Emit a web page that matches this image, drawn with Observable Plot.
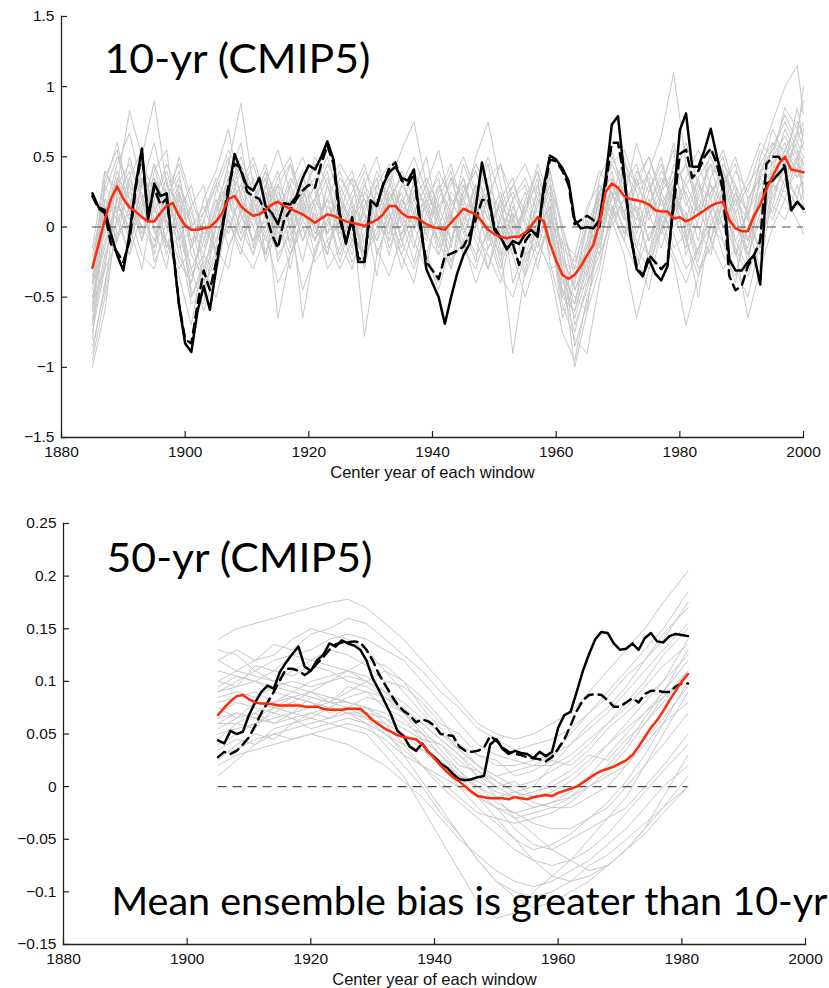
<!DOCTYPE html>
<html><head><meta charset="utf-8">
<script src="https://cdn.jsdelivr.net/npm/d3@7"></script>
<script src="https://cdn.jsdelivr.net/npm/@observablehq/plot@0.6"></script>
<style>
html,body{margin:0;padding:0;background:#fff;overflow:hidden;}
#wrap{width:829px;height:988px;position:relative;}
.chart{position:absolute;left:0;}
</style></head>
<body><div id="wrap"><div id="top" class="chart" style="top:0px"></div><div id="bot" class="chart" style="top:490px"></div></div>
<script>
const AXIS_LABEL = "Center year of each window";
const xTicks = [1880, 1900, 1920, 1940, 1960, 1980, 2000];
const topYTicks = [-1.5, -1, -0.5, 0, 0.5, 1, 1.5];
const botYTicks = [-0.15, -0.1, -0.05, 0, 0.05, 0.1, 0.15, 0.2, 0.25];
const topTitle = "10-yr (CMIP5)";
const botTitle = "50-yr (CMIP5)";
const botNote = "Mean ensemble bias is greater than 10-yr";

// ---------- 10-yr panel (annual, 1885-2000) ----------
const topYears = d3.range(1885, 2001);
const topObsSolid = [
  0.24, 0.14, 0.12, -0.05, -0.2, -0.31, -0.05, 0.3, 0.56, 0.05,
  0.31, 0.22, 0.24, -0.15, -0.55, -0.83, -0.89, -0.6, -0.42, -0.59,
  -0.3, -0.02, 0.25, 0.52, 0.4, 0.29, 0.26, 0.35, 0.15, 0.1,
  0.02, 0.17, 0.16, 0.22, 0.35, 0.44, 0.41, 0.5, 0.61, 0.48,
  0.1, -0.12, 0.07, -0.25, -0.25, 0.19, 0.15, 0.3, 0.39, 0.43,
  0.35, 0.33, 0.41, 0.05, -0.3, -0.4, -0.5, -0.69, -0.5, -0.33,
  -0.2, -0.12, 0.14, 0.46, 0.25, -0.02, -0.07, -0.16, -0.1, -0.12,
  -0.05, -0.02, -0.07, 0.29, 0.51, 0.48, 0.42, 0.33, 0.05, -0.01,
  0.0, -0.01, 0.05, 0.35, 0.73, 0.79, 0.38, -0.05, -0.3, -0.35,
  -0.23, -0.33, -0.38, -0.28, 0.2, 0.69, 0.81, 0.43, 0.43, 0.55,
  0.7, 0.5, 0.33, -0.23, -0.31, -0.31, -0.25, -0.2, -0.41, 0.31,
  0.33, 0.38, 0.43, 0.12, 0.18, 0.13
];
const topObsDashed = [
  0.22, 0.13, 0.1, -0.12, -0.18, -0.25, -0.1, 0.28, 0.53, 0.08,
  0.28, 0.16, 0.2, -0.15, -0.55, -0.8, -0.83, -0.55, -0.31, -0.45,
  -0.25, 0.0, 0.3, 0.45, 0.42, 0.25, 0.22, 0.2, 0.1, -0.05,
  -0.15, 0.05, 0.12, 0.2, 0.26, 0.3, 0.28, 0.45, 0.58, 0.45,
  0.05, -0.1, 0.05, -0.22, -0.24, 0.15, 0.15, 0.3, 0.42, 0.46,
  0.33, 0.3, 0.38, 0.0, -0.25, -0.31, -0.37, -0.21, -0.19, -0.17,
  -0.14, -0.05, 0.05, 0.19, 0.2, 0.0, -0.08, -0.15, -0.12, -0.27,
  -0.1, -0.04, -0.05, 0.25, 0.48, 0.47, 0.4, 0.3, 0.02, 0.05,
  0.08, 0.05, 0.0, 0.3, 0.6, 0.6, 0.35, -0.05, -0.28, -0.35,
  -0.2, -0.25, -0.3, -0.25, 0.15, 0.52, 0.55, 0.35, 0.4, 0.5,
  0.56, 0.45, 0.25, -0.35, -0.45, -0.42, -0.28, -0.2, -0.1, 0.45,
  0.5, 0.5, 0.43, 0.12, 0.18, 0.13
];
const topEnsMean = [
  -0.29, -0.12, 0.05, 0.2, 0.29, 0.2, 0.14, 0.11, 0.07, 0.04,
  0.04, 0.1, 0.15, 0.17, 0.08, 0.01, -0.02, -0.02, -0.01, 0.0,
  0.04, 0.1, 0.2, 0.22, 0.15, 0.11, 0.08, 0.09, 0.12, 0.16,
  0.18, 0.15, 0.13, 0.11, 0.09, 0.06, 0.03, 0.06, 0.09, 0.08,
  0.06, 0.04, 0.03, 0.02, 0.01, 0.03, 0.05, 0.09, 0.15, 0.15,
  0.1, 0.07, 0.07, 0.05, 0.02, 0.0, -0.01, -0.02, 0.03, 0.08,
  0.13, 0.11, 0.09, 0.04, -0.02, -0.05, -0.07, -0.08, -0.07, -0.07,
  -0.04, 0.01, 0.07, 0.04, -0.12, -0.24, -0.34, -0.37, -0.34, -0.28,
  -0.2, -0.13, 0.03, 0.25, 0.31, 0.28, 0.22, 0.2, 0.19, 0.18,
  0.16, 0.12, 0.11, 0.11, 0.06, 0.07, 0.04, 0.06, 0.09, 0.12,
  0.15, 0.17, 0.18, 0.05, -0.01, -0.03, -0.03, 0.08, 0.16, 0.27,
  0.36, 0.45, 0.5, 0.41, 0.4, 0.39
];
const topGrayYears = [1885,1887,1889,1891,1893,1895,1897,1899,1901,1903,1905,1907,1909,1911,1913,1915,1917,1919,1921,1923,1925,1927,1929,1931,1933,1935,1937,1939,1941,1943,1945,1947,1949,1951,1953,1955,1957,1959,1961,1963,1965,1967,1969,1971,1973,1975,1977,1979,1981,1983,1985,1987,1989,1991,1993,1995,1997,1999,2000];
const topMembers = [
  [-0.55,0.1,0.45,0.67,0.3,0.6,0.2,0.4,-0.2,-0.35, 0.1,0.45,0.88,0.3,0.1,0.35,0.5,0.15,-0.1,0.3, 0.05,-0.2,0.15,0.3,0.45,0.1,-0.15,0.2,0.35,-0.1, 0.25,0.4,0.1,-0.25,0.15,-0.1,0.3,0.05,-0.45,-0.6, -0.3,0.1,0.5,0.3,0.45,0.1,0.3,0.55,-0.1,0.2, 0.45,0.3,-0.1,-0.3,0.4,0.55,0.8,0.6,0.5],
  [-1.0,-0.6,0.1,-0.2,0.35,0.0,-0.3,0.25,-0.5,-0.25, -0.1,0.3,0.1,-0.2,0.25,-0.1,0.2,0.4,0.0,-0.2, 0.2,0.35,-0.15,0.1,-0.05,0.3,0.15,-0.2,-0.4,0.1, 0.35,0.05,-0.3,0.0,-0.2,0.2,0.4,0.0,-0.5,-0.2, -0.35,0.15,0.4,0.05,0.3,0.35,-0.05,0.2,0.1,-0.2, 0.25,0.4,0.05,-0.2,0.1,0.4,0.3,0.7,0.55],
  [-0.3,0.3,0.6,0.2,-0.1,0.4,0.55,-0.1,0.15,0.3, -0.2,0.15,0.4,-0.15,0.3,0.55,0.25,-0.1,0.2,0.4, -0.1,0.2,-0.3,0.15,0.4,0.0,0.25,0.5,0.05,-0.25, 0.1,0.3,-0.1,0.2,-0.4,-0.15,0.2,-0.2,-0.1,-0.7, -0.45,-0.1,0.2,0.5,0.1,-0.2,0.25,0.4,0.15,0.35, -0.1,0.3,0.45,0.05,-0.15,0.5,0.65,0.45,0.3],
  [-0.7,-0.25,0.2,0.4,-0.05,0.15,-0.2,0.1,0.3,-0.1, 0.2,-0.15,0.1,0.35,-0.2,0.05,-0.3,0.15,0.3,-0.05, 0.3,0.1,0.35,-0.2,0.05,0.25,-0.1,-0.3,0.2,0.4, -0.05,0.2,0.45,-0.1,0.1,-0.35,0.05,0.3,-0.3,-0.55, -0.1,0.3,0.15,-0.1,0.35,0.5,0.2,-0.15,-0.05,0.3, 0.2,-0.1,-0.4,0.2,0.35,0.15,0.5,0.35,0.45],
  [-0.15,0.4,0.2,-0.1,0.3,0.1,0.35,-0.2,-0.4,0.05, 0.3,0.05,-0.2,0.2,0.4,-0.05,0.1,-0.25,0.15,0.35, 0.15,-0.1,0.1,-0.35,0.2,0.35,0.05,0.15,-0.2,0.05, 0.45,0.2,0.0,-0.3,0.05,0.25,-0.1,-0.3,-0.25,-0.4, 0.05,-0.2,0.35,0.2,0.05,0.4,0.65,1.1,0.45,0.2, 0.1,0.4,0.2,0.05,0.5,0.75,1.0,1.15,0.8],
  [-0.45,0.15,-0.1,0.35,0.55,-0.05,0.1,0.3,0.05,-0.4, 0.0,0.35,0.15,-0.1,0.0,0.3,-0.15,0.2,0.45,0.1, -0.2,0.05,0.3,0.5,0.1,-0.15,0.35,0.1,-0.1,0.2, 0.0,-0.25,0.3,0.1,-0.15,0.1,0.35,-0.25,-0.6,-0.35, -0.15,0.2,0.05,0.4,0.25,-0.1,0.1,0.3,-0.2,0.05, 0.35,0.5,0.1,-0.25,0.25,0.2,0.45,0.6,0.75],
  [-0.6,0.0,0.3,0.83,0.5,0.9,0.3,0.15,-0.15,0.2, 0.4,0.7,0.2,0.05,0.25,-0.1,0.3,0.5,0.25,-0.05, 0.1,0.35,0.2,0.0,0.3,0.55,0.75,0.3,0.0,0.25, 0.15,0.5,0.75,0.3,0.0,-0.1,0.15,0.4,0.0,-0.3, -0.2,0.35,0.55,0.2,0.6,0.3,0.05,0.45,0.3,0.1, 0.55,0.4,0.15,0.35,0.6,0.5,0.85,0.7,0.9],
  [-0.9,-0.4,-0.05,0.1,-0.2,-0.3,0.05,-0.1,-0.55,-0.45, -0.2,0.05,-0.15,-0.3,-0.05,-0.4,-0.2,0.0,-0.25,-0.1, -0.3,-0.1,0.05,-0.15,-0.35,-0.05,0.1,-0.2,-0.45,-0.1, 0.0,-0.2,-0.05,-0.35,-0.5,-0.2,-0.1,-0.3,-0.75,-0.95, -0.5,-0.25,0.1,-0.1,-0.3,-0.05,0.05,-0.2,-0.4,-0.15, 0.0,-0.1,-0.3,-0.5,-0.1,0.15,0.05,0.3,0.15],
  [-0.35,0.2,0.05,-0.2,0.1,-0.15,0.2,0.0,-0.3,-0.6, -0.3,0.1,0.3,0.1,-0.2,0.2,0.0,-0.45,-0.2,0.15, 0.0,-0.25,-0.05,0.2,0.0,-0.2,-0.4,0.05,0.15,-0.1, 0.2,-0.05,-0.2,-0.4,0.0,0.1,-0.15,0.15,-0.3,-1.0, -0.6,-0.3,0.15,0.0,-0.2,-0.45,0.0,0.2,-0.1,-0.35, 0.0,0.25,-0.2,0.0,-0.3,0.25,0.4,0.2,0.1],
  [-0.75,-0.3,0.35,0.1,0.25,-0.25,-0.05,0.3,0.1,-0.15, 0.15,-0.05,0.25,0.45,0.15,-0.65,-0.2,0.05,-0.1,0.3, -0.05,0.15,-0.2,-0.05,0.25,0.05,-0.25,0.1,0.3,0.05, -0.15,0.1,0.25,-0.15,-0.9,-0.3,0.05,0.25,-0.2,-0.45, -0.2,0.0,0.3,0.1,-0.3,0.15,0.4,0.25,0.05,-0.3, -0.15,0.1,0.3,-0.1,0.15,0.3,0.55,0.45,0.35],
  [-0.2,0.25,0.5,0.3,0.15,0.45,0.0,0.25,-0.1,0.1, 0.3,0.55,0.35,0.15,0.4,0.2,0.05,0.3,-0.05,0.2, 0.4,0.15,0.0,0.25,0.1,-0.05,0.2,0.35,0.15,0.3, 0.5,0.25,0.05,0.15,0.3,0.1,0.45,0.2,-0.15,-0.25, 0.0,0.25,0.45,0.55,0.3,0.15,0.35,0.2,0.05,0.35, 0.5,0.25,0.1,0.3,0.45,0.6,0.55,0.75,0.65],
  [-0.5,-0.1,0.15,0.0,-0.3,0.2,-0.1,-0.35,-0.7,-0.2, -0.35,0.1,-0.1,0.15,-0.25,0.0,0.2,-0.1,0.1,-0.3, -0.15,0.1,-0.78,-0.2,0.05,-0.3,0.0,-0.2,0.1,-0.25, -0.1,-0.4,-0.15,0.05,-0.2,-0.5,-0.2,0.0,-0.55,-0.8, -0.9,-0.4,0.05,-0.2,-0.65,-0.3,0.0,-0.25,-0.7,-0.35, -0.1,-0.3,-0.15,-0.65,-0.3,0.0,0.2,0.05,-0.05],
  [-0.8,0.05,0.4,0.15,0.45,0.25,0.0,-0.15,0.0,0.15, -0.1,0.2,0.0,-0.2,0.1,0.3,0.15,-0.65,-0.15,0.05, 0.25,0.0,-0.25,0.1,0.3,0.15,0.05,-0.1,0.25,0.45, 0.1,-0.1,-0.3,0.1,0.25,0.05,-0.3,0.1,-0.4,-0.5, -0.6,0.05,0.25,-0.05,0.15,-0.25,0.1,0.35,-0.05,-0.5, 0.05,0.15,-0.1,0.1,-0.2,0.3,0.2,0.5,0.25],
  [-0.4,0.3,0.1,0.5,0.2,0.35,0.15,0.5,0.2,-0.05, 0.05,0.25,0.5,0.25,0.45,0.1,0.35,0.2,0.5,0.3, 0.45,0.3,0.1,0.4,0.2,0.35,0.1,0.3,0.55,0.15, 0.3,0.05,0.35,0.45,0.2,0.35,0.1,0.3,0.0,-0.35, -0.1,0.25,0.35,0.1,0.4,0.25,0.5,0.1,0.35,0.55, 0.3,0.15,0.4,0.25,0.55,0.45,0.6,0.35,0.5],
  [-0.65,-0.2,0.05,0.25,0.1,-0.1,0.25,0.45,0.15,-0.3, -0.5,-0.15,0.05,0.2,-0.1,0.15,0.45,0.2,0.0,0.2, -0.1,-0.3,0.05,0.2,-0.15,0.1,0.3,-0.05,-0.2,0.1, -0.2,0.15,-0.05,-0.2,0.1,-0.05,0.25,-0.1,-0.35,-0.65, -0.35,0.0,0.2,0.35,0.0,0.1,-0.15,0.15,0.25,0.0, -0.2,0.2,-0.15,-0.35,-0.05,0.35,0.45,0.55,0.2],
  [-0.85,-0.45,0.25,-0.05,0.2,0.35,-0.15,0.05,-0.45,-0.55, 0.05,0.3,-0.05,0.2,0.35,-0.25,0.0,0.15,-0.2,0.05, 0.2,-0.1,0.15,0.35,-0.1,0.2,0.0,0.15,-0.1,-0.3, 0.25,0.4,0.15,-0.2,-0.15,0.15,-0.05,-0.1,-0.45,-0.75, -0.4,-0.05,0.3,0.1,-0.15,0.2,-0.05,0.3,0.45,0.1, 0.3,0.0,0.25,0.1,0.3,0.4,0.7,0.5,0.6],
  [-0.95,-0.5,0.0,0.3,-0.1,0.2,0.4,0.1,-0.3,-0.1, 0.25,0.5,0.1,-0.1,0.2,0.4,0.0,0.25,0.35,-0.1, 0.05,0.25,0.45,0.1,-0.2,0.15,0.4,0.2,-0.15,0.15, 0.35,0.0,0.2,0.45,0.05,-0.2,0.05,0.35,-0.2,-0.85, -0.55,-0.1,0.3,0.1,0.35,0.05,0.25,0.6,0.2,-0.1, 0.35,0.55,0.25,-0.1,0.2,0.6,0.45,0.85,0.6],
  [-0.6,0.35,0.55,0.1,0.4,0.15,-0.15,0.2,-0.1,-0.45, -0.15,0.2,0.45,0.2,-0.05,0.25,0.1,0.35,0.15,-0.2, 0.2,0.0,0.3,0.15,0.35,-0.1,0.1,0.3,0.1,0.35, 0.05,0.3,0.15,-0.1,0.2,0.3,0.0,0.4,-0.05,-0.45, -0.25,0.25,0.1,0.3,-0.05,0.25,0.45,0.1,-0.15,0.25, 0.45,0.1,-0.2,0.15,0.45,0.3,0.55,0.4,0.7],
  [-0.25,-0.05,0.3,0.45,0.2,-0.2,0.15,0.35,0.0,-0.2, 0.1,0.35,0.6,0.1,0.3,0.05,-0.2,0.1,0.3,0.5, 0.2,0.05,-0.2,0.3,0.15,0.4,0.2,-0.05,0.3,0.1, -0.1,0.25,0.5,0.2,-0.05,0.15,0.4,0.1,-0.25,-0.3, 0.1,0.4,0.25,-0.05,0.2,0.4,0.15,0.35,0.6,0.3, 0.1,0.3,0.5,0.2,0.35,0.7,0.5,0.65,1.0],
  [-0.5,-0.15,0.2,-0.1,0.15,0.3,0.05,-0.25,-0.4,0.0, -0.15,-0.3,0.15,0.0,0.2,-0.15,0.05,0.2,-0.1,0.1, -0.25,0.05,0.2,-0.1,0.1,-0.2,0.05,0.2,0.0,-0.3, 0.05,0.15,-0.15,-0.05,0.2,-0.25,0.0,0.15,-0.5,-0.6, -0.25,0.1,0.0,0.2,-0.15,-0.3,0.05,0.3,0.0,0.15, -0.1,0.2,0.0,-0.15,0.25,0.1,0.35,0.2,0.4],
  [-0.7,0.2,0.1,0.35,0.1,0.45,0.2,-0.05,-0.35,-0.2, 0.15,0.4,0.25,0.0,-0.2,0.1,0.3,0.05,0.2,0.45, 0.25,0.4,0.1,-0.1,0.25,0.05,0.3,0.15,0.4,0.2, 0.0,0.3,0.05,0.25,-0.1,0.15,0.3,-0.1,-0.45,-0.55, -0.2,0.2,0.45,0.25,0.1,0.3,0.0,0.25,0.45,0.15, 0.25,0.35,0.0,-0.1,0.35,0.45,0.3,0.5,0.45],
  [-0.4,0.05,0.35,0.2,0.0,-0.15,0.3,0.15,-0.5,-0.3, 0.0,0.2,-0.1,0.15,0.35,0.1,-0.1,0.25,0.05,0.2, 0.1,-0.15,0.25,0.05,-0.1,0.2,0.0,0.25,0.05,-0.15, 0.3,0.1,-0.05,0.2,0.35,0.0,-0.2,0.05,-0.65,-0.4, 0.0,-0.15,0.25,0.05,0.15,-0.1,0.2,0.0,0.1,-0.25, 0.15,0.0,0.2,-0.2,0.05,0.3,0.25,0.4,0.3],
  [-0.3,0.4,0.25,0.05,0.35,0.2,0.45,0.25,0.0,0.1, 0.35,0.15,0.3,0.5,0.2,0.3,0.45,0.1,0.2,0.0, 0.35,0.2,0.4,0.25,0.05,0.3,0.5,0.25,0.1,0.35, 0.2,0.45,0.25,0.05,0.3,0.45,0.2,0.05,-0.1,-0.2, 0.15,0.3,0.1,0.45,0.3,0.5,0.25,0.05,0.3,0.45, 0.2,0.45,0.3,0.1,0.4,0.55,0.75,0.55,0.45],
  [-0.55,-0.3,-0.1,0.15,0.35,0.05,-0.1,-0.3,-0.15,0.05, -0.2,0.0,0.2,-0.1,0.05,-0.2,-0.05,0.1,0.0,-0.15, 0.05,-0.05,-0.2,0.0,0.2,-0.1,-0.3,0.0,-0.05,0.1, -0.15,-0.3,0.0,0.15,-0.15,-0.35,-0.1,0.2,-0.35,-0.5, -0.4,-0.2,0.05,0.2,-0.1,-0.2,0.1,-0.05,-0.3,-0.15, 0.1,-0.2,-0.35,0.0,0.2,0.05,0.3,0.15,0.25]
];

// ---------- 50-yr panel (annual, 1905-1981) ----------
const botYears = d3.range(1905, 1982);
const botObsSolid = [
  0.044, 0.041, 0.053, 0.05, 0.052, 0.068, 0.08, 0.09, 0.096, 0.093,
  0.109, 0.118, 0.126, 0.133, 0.114, 0.11, 0.12, 0.125, 0.136, 0.133,
  0.139, 0.136, 0.134, 0.13, 0.12, 0.103, 0.092, 0.08, 0.068, 0.053,
  0.048, 0.038, 0.034, 0.041, 0.033, 0.028, 0.022, 0.018, 0.012, 0.007,
  0.006, 0.007, 0.009, 0.01, 0.04, 0.045, 0.036, 0.031, 0.034, 0.032,
  0.031, 0.027, 0.033, 0.029, 0.033, 0.056, 0.068, 0.071, 0.09, 0.11,
  0.126, 0.14, 0.147, 0.146, 0.136, 0.13, 0.131, 0.136, 0.13, 0.141,
  0.146, 0.138, 0.137, 0.143, 0.145, 0.144, 0.143
];
const botObsDashed = [
  0.028, 0.033, 0.031, 0.034, 0.04, 0.047, 0.058, 0.07, 0.08, 0.09,
  0.101, 0.112, 0.112, 0.11, 0.106, 0.11, 0.117, 0.123, 0.13, 0.135,
  0.137, 0.137, 0.138, 0.137, 0.13, 0.12, 0.107, 0.097, 0.087, 0.078,
  0.072, 0.068, 0.061, 0.064, 0.062, 0.058, 0.05, 0.049, 0.048, 0.038,
  0.034, 0.033, 0.034, 0.037, 0.048, 0.044, 0.037, 0.033, 0.031, 0.03,
  0.028, 0.027, 0.026, 0.024, 0.028, 0.036, 0.045, 0.058, 0.072, 0.082,
  0.087, 0.088, 0.087, 0.082, 0.076, 0.076, 0.08, 0.084, 0.08, 0.088,
  0.091, 0.091, 0.09, 0.09, 0.095, 0.098, 0.098
];
const botEnsMean = [
  0.068, 0.075, 0.081, 0.086, 0.087, 0.083, 0.08, 0.079, 0.079, 0.078,
  0.077, 0.077, 0.077, 0.077, 0.076, 0.076, 0.076, 0.074, 0.073, 0.073,
  0.073, 0.074, 0.074, 0.074, 0.069, 0.063, 0.059, 0.055, 0.052, 0.049,
  0.047, 0.046, 0.045, 0.04, 0.033, 0.027, 0.02, 0.014, 0.009, 0.005,
  0.0, -0.005, -0.009, -0.01, -0.011, -0.011, -0.011, -0.012, -0.01, -0.011,
  -0.012, -0.01, -0.009, -0.008, -0.009, -0.006, -0.004, -0.002, 0.0, 0.004,
  0.008, 0.012, 0.015, 0.017, 0.019, 0.022, 0.025, 0.03, 0.038, 0.047,
  0.056, 0.063, 0.072, 0.082, 0.091, 0.1, 0.107
];
const botGrayYears = [1905,1908,1911,1914,1917,1920,1923,1926,1929,1932,1935,1938,1941,1944,1947,1950,1953,1956,1959,1962,1965,1968,1971,1974,1977,1981];
const botMembers = [
  [0.14,0.15,0.155,0.16,0.165,0.17,0.175,0.178,0.17,0.155, 0.14,0.12,0.1,0.08,0.06,0.05,0.045,0.05,0.06,0.07, 0.09,0.11,0.13,0.15,0.175,0.205],
  [0.12,0.13,0.12,0.125,0.14,0.15,0.145,0.14,0.13,0.11, 0.09,0.07,0.05,0.035,0.02,0.01,0.015,0.02,0.03,0.05, 0.07,0.09,0.11,0.13,0.15,0.185],
  [0.1,0.11,0.105,0.1,0.11,0.12,0.115,0.11,0.1,0.085, 0.07,0.05,0.03,0.01,0.0,-0.01,-0.005,0.0,0.02,0.04, 0.06,0.075,0.095,0.12,0.145,0.17],
  [0.06,0.07,0.065,0.06,0.07,0.065,0.06,0.055,0.05,0.03, 0.01,-0.02,-0.05,-0.08,-0.11,-0.125,-0.12,-0.1,-0.085,-0.07, -0.05,-0.03,-0.01,0.02,0.05,0.09],
  [0.08,0.085,0.09,0.08,0.085,0.09,0.08,0.075,0.07,0.055, 0.03,0.005,-0.02,-0.045,-0.07,-0.09,-0.1,-0.105,-0.1,-0.09, -0.075,-0.065,-0.05,-0.035,-0.02,0.0],
  [0.04,0.05,0.06,0.065,0.07,0.075,0.08,0.08,0.075,0.065, 0.05,0.035,0.02,0.005,-0.01,-0.02,-0.025,-0.02,-0.015,-0.005, 0.01,0.03,0.05,0.07,0.09,0.12],
  [0.01,0.025,0.04,0.05,0.055,0.06,0.065,0.07,0.065,0.05, 0.035,0.02,0.005,-0.01,-0.025,-0.03,-0.035,-0.03,-0.025,-0.015, 0.0,0.015,0.035,0.06,0.085,0.11],
  [0.09,0.095,0.1,0.095,0.09,0.085,0.08,0.09,0.1,0.11, 0.1,0.085,0.065,0.04,0.02,0.005,-0.005,-0.015,-0.02,-0.02, -0.01,0.0,0.02,0.04,0.06,0.08],
  [0.13,0.125,0.11,0.1,0.095,0.09,0.085,0.08,0.075,0.06, 0.04,0.02,0.0,-0.015,-0.03,-0.045,-0.06,-0.07,-0.075,-0.07, -0.06,-0.045,-0.025,-0.005,0.015,0.04],
  [0.07,0.08,0.075,0.07,0.065,0.07,0.075,0.085,0.09,0.085, 0.075,0.06,0.045,0.03,0.01,-0.01,-0.03,-0.045,-0.06,-0.07, -0.08,-0.075,-0.06,-0.04,-0.01,0.03],
  [0.05,0.055,0.06,0.07,0.08,0.09,0.1,0.105,0.1,0.09, 0.08,0.065,0.05,0.04,0.03,0.02,0.02,0.025,0.03,0.04, 0.055,0.07,0.09,0.11,0.13,0.155],
  [0.11,0.105,0.1,0.09,0.085,0.08,0.075,0.07,0.07,0.065, 0.055,0.045,0.03,0.015,0.0,-0.015,-0.025,-0.035,-0.04,-0.04, -0.03,-0.015,0.005,0.03,0.06,0.1],
  [0.03,0.035,0.045,0.05,0.045,0.05,0.055,0.06,0.055,0.045, 0.03,0.02,0.01,0.0,-0.01,-0.02,-0.03,-0.025,-0.02,-0.01, 0.005,0.02,0.04,0.065,0.09,0.13],
  [0.06,0.06,0.07,0.08,0.09,0.1,0.105,0.11,0.105,0.09, 0.07,0.05,0.03,0.01,-0.01,-0.03,-0.05,-0.07,-0.085,-0.09, -0.085,-0.075,-0.06,-0.04,-0.02,0.01],
  [0.09,0.1,0.11,0.12,0.125,0.13,0.14,0.145,0.14,0.13, 0.12,0.1,0.08,0.06,0.04,0.03,0.025,0.02,0.02,0.03, 0.045,0.06,0.08,0.1,0.125,0.15],
  [0.02,0.03,0.035,0.04,0.045,0.05,0.045,0.04,0.03,0.02, 0.005,-0.01,-0.03,-0.05,-0.065,-0.08,-0.09,-0.095,-0.09,-0.08, -0.07,-0.055,-0.04,-0.02,0.0,0.02],
  [0.045,0.06,0.055,0.075,0.07,0.085,0.08,0.095,0.09,0.075, 0.065,0.045,0.04,0.02,0.015,0.0,0.005,-0.01,0.005,0.015, 0.03,0.025,0.045,0.06,0.08,0.11],
  [0.1,0.095,0.115,0.11,0.125,0.12,0.13,0.125,0.115,0.1, 0.095,0.08,0.06,0.05,0.03,0.025,0.01,0.015,0.025,0.02, 0.035,0.055,0.07,0.085,0.1,0.14],
  [0.075,0.065,0.07,0.06,0.065,0.055,0.06,0.065,0.06,0.05, 0.04,0.035,0.025,0.01,0.005,-0.005,-0.01,-0.02,-0.015,-0.01, 0.0,0.01,0.02,0.045,0.065,0.095],
  [0.035,0.045,0.04,0.055,0.06,0.07,0.065,0.075,0.085,0.08, 0.07,0.055,0.035,0.015,-0.005,-0.02,-0.04,-0.055,-0.06,-0.05, -0.04,-0.03,-0.02,0.0,0.02,0.05],
  [0.12,0.11,0.12,0.135,0.13,0.145,0.15,0.16,0.155,0.14, 0.125,0.11,0.09,0.075,0.055,0.045,0.035,0.04,0.045,0.055, 0.07,0.085,0.105,0.12,0.14,0.175],
  [0.055,0.065,0.08,0.075,0.085,0.08,0.07,0.075,0.065,0.06, 0.05,0.04,0.02,0.0,-0.02,-0.035,-0.05,-0.06,-0.055,-0.045, -0.03,-0.02,0.0,0.02,0.04,0.07],
  [0.085,0.09,0.085,0.095,0.1,0.095,0.1,0.11,0.12,0.115, 0.1,0.075,0.055,0.035,0.02,0.01,0.0,0.005,0.015,0.025, 0.04,0.06,0.075,0.095,0.115,0.135],
  [0.025,0.04,0.05,0.045,0.06,0.065,0.075,0.07,0.06,0.04, 0.02,0.0,-0.025,-0.045,-0.07,-0.09,-0.105,-0.115,-0.11,-0.1, -0.09,-0.075,-0.06,-0.045,-0.025,0.0],
  [0.065,0.07,0.065,0.075,0.08,0.075,0.085,0.08,0.075,0.07, 0.06,0.05,0.04,0.025,0.01,0.0,-0.01,-0.005,0.0,0.01, 0.025,0.04,0.06,0.08,0.1,0.125],
  [0.095,0.105,0.1,0.11,0.105,0.115,0.11,0.1,0.095,0.085, 0.07,0.06,0.045,0.03,0.015,0.005,-0.005,-0.01,-0.005,0.005, 0.02,0.04,0.055,0.07,0.085,0.105]
];

const TICK_FONT = '"Liberation Sans", Arial, Helvetica, sans-serif';
const BIG_FONT = 'Lato, "Open Sans", sans-serif';

function series(xs, ys) {
  return xs.map((x, i) => ({year: x, value: ys[i]})).filter(d => d.value != null);
}
function grayRows(xs, members) {
  return members.flatMap((m, k) => m.slice(0, xs.length).map((v, i) => ({year: xs[i], value: v, member: k})));
}
const fmt = d => (d < 0 ? "\u2212" : "") + Math.abs(d);

function drawPanel(c) {
  const x0 = d3.min(c.years), x1 = d3.max(c.years);
  const marks = [
    Plot.line(grayRows(c.grayYears, c.members), {x: "year", y: "value", z: "member", stroke: "#c8c8c8", strokeWidth: 1}),
    Plot.ruleY([0], {x1: x0, x2: x1, stroke: "#4a4a4a", strokeWidth: 1.1, strokeDasharray: "9,6"}),
    Plot.line(series(c.years, c.dashed), {x: "year", y: "value", stroke: "#000", strokeWidth: 2.5, strokeDasharray: "9,6"}),
    Plot.line(series(c.years, c.solid), {x: "year", y: "value", stroke: "#000", strokeWidth: 2.5}),
    Plot.line(series(c.years, c.mean), {x: "year", y: "value", stroke: "#ff2a0a", strokeWidth: 2.5}),
    Plot.frame({anchor: "left", stroke: "#222", strokeWidth: 1.3}),
    Plot.frame({anchor: "bottom", stroke: "#222", strokeWidth: 1.3}),
    Plot.axisX(xTicks, {anchor: "bottom", tickSize: 6, dy: -6, tickFormat: () => "", label: null, stroke: "#222", strokeWidth: 1.2}),
    Plot.axisX(xTicks, {anchor: "bottom", tickSize: 0, tickPadding: 8, tickFormat: d => String(d), label: null, fill: "#111", fontSize: 15.5}),
    Plot.axisY(c.yTicks, {anchor: "left", tickSize: 6, dx: 6, tickFormat: () => "", label: null, stroke: "#222", strokeWidth: 1.2}),
    Plot.axisY(c.yTicks, {anchor: "left", tickSize: 0, tickPadding: 7, tickFormat: fmt, label: null, fill: "#111", fontSize: 15.5}),
    Plot.text([AXIS_LABEL], {text: d => d, frameAnchor: "bottom", lineAnchor: "middle", dy: 35, fontSize: 16.5, fill: "#111"}),
    Plot.text([c.title], {text: d => d, frameAnchor: "top-left", textAnchor: "start", lineAnchor: "bottom", dx: c.titleDx, dy: c.titleDy, fontSize: 40, fontFamily: BIG_FONT, fill: "#000"})
  ];
  if (c.note) marks.push(Plot.text([c.note], {text: d => d, frameAnchor: "top-left", textAnchor: "start", lineAnchor: "bottom", dx: c.noteDx, dy: c.noteDy, fontSize: 38, fontFamily: BIG_FONT, fill: "#000"}));
  const svg = Plot.plot({
    width: 829, height: c.height,
    marginLeft: c.ml, marginRight: c.mr, marginTop: c.mt, marginBottom: c.mb,
    x: {domain: [1880, 2000]},
    y: {domain: c.yDomain},
    style: {fontFamily: TICK_FONT, fontSize: "15.5px", color: "#111", background: "#fff", overflow: "visible"},
    marks
  });
  d3.select(svg).selectAll("text").each(function() {
    const t = this.textContent;
    if (t === c.title) d3.select(this).attr("textLength", c.titleLen).attr("lengthAdjust", "spacingAndGlyphs");
    if (c.note && t === c.note) d3.select(this).attr("textLength", c.noteLen).attr("lengthAdjust", "spacingAndGlyphs");
  });
  document.querySelector(c.el).appendChild(svg);
}

drawPanel({el: "#top", height: 490, ml: 61, mr: 26, mt: 16, mb: 53,
  yDomain: [-1.5, 1.5], yTicks: topYTicks,
  years: topYears, solid: topObsSolid, dashed: topObsDashed, mean: topEnsMean,
  grayYears: topGrayYears, members: topMembers,
  title: topTitle, titleDx: 43, titleDy: 56, titleLen: 266});

drawPanel({el: "#bot", height: 498, ml: 63, mr: 24, mt: 33, mb: 44,
  yDomain: [-0.15, 0.25], yTicks: botYTicks,
  years: botYears, solid: botObsSolid, dashed: botObsDashed, mean: botEnsMean,
  grayYears: botGrayYears, members: botMembers,
  title: botTitle, titleDx: 43, titleDy: 48, titleLen: 266,
  note: botNote, noteDx: 48, noteDy: 391, noteLen: 716});
</script>
</body></html>
